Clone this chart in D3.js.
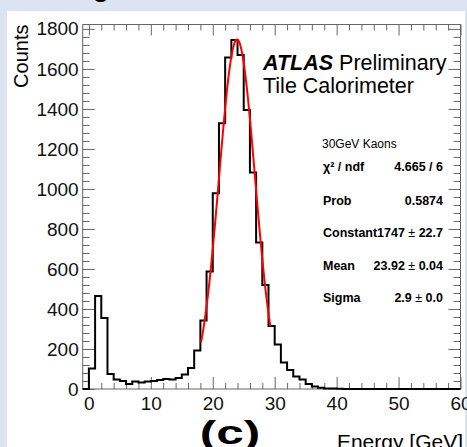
<!DOCTYPE html>
<html>
<head>
<meta charset="utf-8">
<script src="https://cdn.jsdelivr.net/npm/d3@7/dist/d3.min.js"></script>
<style>
  body { margin: 0; background: #dbe4f0; }
  svg { display: block; font-family: "Liberation Sans", Arial, sans-serif; }
</style>
</head>
<body>
<div id="chart"></div>
<script>
// histogram contents, one entry per 1 GeV bin starting at -1 GeV
const binWidth = 1;
const firstEdge = -1;
const counts = [
  0, 103, 465, 355, 75, 48, 40, 25, 37, 33,
  37, 40, 45, 50, 47, 55, 72, 105, 193, 342,
  587, 978, 1328, 1657, 1745, 1670, 1395, 1082, 732, 520,
  315, 222, 132, 95, 62, 48, 25, 12, 6, 3,
  2, 1, 0, 0, 0, 0, 0, 0, 0, 0,
  0, 0, 0, 0, 0, 0, 0, 0, 0, 0,
  0
];

// gaussian fit (values from the stats box)
const fitConstant = 1747;
const fitMean = 23.92;
const fitSigma = 2.9;
const fitRange = [18.1, 29.3];

const xMajorTicks = [0, 10, 20, 30, 40, 50, 60];
const yMajorTicks = [0, 200, 400, 600, 800, 1000, 1200, 1400, 1600, 1800];

const statsTitle = "30GeV Kaons";
const statsNames = ["\u03c7\u00b2 / ndf", "Prob", "Constant", "Mean", "Sigma"];
const statsValues = [["4.665 / 6"], ["0.5874"], ["1747", "22.7"], ["23.92", "0.04"], ["2.9", "0.0"]];

function drawHistogram() {
  const dimensions = {
    width: 467,
    height: 447,
    frame: { left: 82.7, right: 460.5, top: 24.5, bottom: 389 }
  };

  const svg = d3.select("#chart")
    .append("svg")
    .attr("width", dimensions.width)
    .attr("height", dimensions.height);

  // white slide panel
  svg.append("rect")
    .attr("x", 7)
    .attr("y", 11)
    .attr("width", 458)
    .attr("height", 440)
    .attr("fill", "white");

  // bit of the title line above that is cut off
  svg.append("text")
    .attr("x", 92)
    .attr("y", 2)
    .attr("font-size", 30)
    .attr("font-weight", "bold")
    .text("e");

  const f = dimensions.frame;
  const xScale = d3.scaleLinear().domain([-1, 60]).range([f.left, f.right]);
  const yScale = d3.scaleLinear().domain([0, 1822]).range([f.bottom, f.top]);

  const xMinorTicks = d3.range(0, 61, 2).filter((d) => d % 10 !== 0);
  const yMinorTicks = d3.range(0, 1801, 40).filter((d) => d % 200 !== 0);

  const axisColor = "#666";

  function styleAxis(g) {
    g.attr("font-family", null).attr("font-size", null);
    g.select(".domain").remove();
    g.selectAll(".tick line").attr("stroke", axisColor);
    g.selectAll(".tick text").attr("fill", "#111").attr("font-size", 19);
  }

  // bottom
  svg.append("g")
    .attr("transform", `translate(0,${f.bottom})`)
    .call(d3.axisBottom(xScale).tickValues(xMinorTicks).tickSize(-6).tickFormat(""))
    .call(styleAxis);
  svg.append("g")
    .attr("transform", `translate(0,${f.bottom})`)
    .call(d3.axisBottom(xScale).tickValues(xMajorTicks).tickSize(-12).tickPadding(8).tickFormat(d3.format("d")))
    .call(styleAxis);

  // top
  svg.append("g")
    .attr("transform", `translate(0,${f.top})`)
    .call(d3.axisTop(xScale).tickValues(xMinorTicks).tickSize(-6).tickFormat(""))
    .call(styleAxis);
  svg.append("g")
    .attr("transform", `translate(0,${f.top})`)
    .call(d3.axisTop(xScale).tickValues(xMajorTicks).tickSize(-11).tickFormat(""))
    .call(styleAxis);

  // left
  svg.append("g")
    .attr("transform", `translate(${f.left},0)`)
    .call(d3.axisLeft(yScale).tickValues(yMinorTicks).tickSize(-7).tickFormat(""))
    .call(styleAxis);
  svg.append("g")
    .attr("transform", `translate(${f.left},0)`)
    .call(d3.axisLeft(yScale).tickValues(yMajorTicks).tickSize(-12).tickPadding(4).tickFormat(d3.format("d")))
    .call(styleAxis);

  // right
  svg.append("g")
    .attr("transform", `translate(${f.right},0)`)
    .call(d3.axisRight(yScale).tickValues(yMinorTicks).tickSize(-7).tickFormat(""))
    .call(styleAxis);
  svg.append("g")
    .attr("transform", `translate(${f.right},0)`)
    .call(d3.axisRight(yScale).tickValues(yMajorTicks).tickSize(-12).tickFormat(""))
    .call(styleAxis);

  // frame
  svg.append("rect")
    .attr("x", f.left)
    .attr("y", f.top)
    .attr("width", f.right - f.left)
    .attr("height", f.bottom - f.top)
    .attr("fill", "none")
    .attr("stroke", axisColor)
    .attr("stroke-width", 1);

  // histogram as a step line
  const bins = counts.map((c, i) => ({
    x0: firstEdge + i * binWidth,
    x1: firstEdge + (i + 1) * binWidth,
    count: c
  }));
  const stepPoints = [];
  bins.forEach((b) => {
    stepPoints.push([b.x0, b.count], [b.x1, b.count]);
  });

  const lineGenerator = d3.line()
    .x((d) => xScale(d[0]))
    .y((d) => yScale(d[1]));

  svg.append("path")
    .attr("d", lineGenerator(stepPoints))
    .attr("fill", "none")
    .attr("stroke", "black")
    .attr("stroke-width", 2)
    .attr("stroke-linejoin", "miter");

  // fit curve
  const gauss = (x) => fitConstant * Math.exp(-0.5 * ((x - fitMean) / fitSigma) ** 2);
  const fitPoints = d3.range(fitRange[0], fitRange[1] + 0.001, 0.05).map((x) => [x, gauss(x)]);

  svg.append("path")
    .attr("d", lineGenerator(fitPoints))
    .attr("fill", "none")
    .attr("stroke", "#ff0000")
    .attr("stroke-width", 2);

  // axis titles
  svg.append("text")
    .attr("transform", `translate(28,${f.top}) rotate(-90)`)
    .attr("text-anchor", "end")
    .attr("font-size", 20)
    .text("Counts");

  svg.append("text")
    .attr("x", 463)
    .attr("y", 449)
    .attr("text-anchor", "end")
    .attr("font-size", 21)
    .text("Energy [GeV]");

  svg.append("text")
    .attr("transform", "translate(230,444) scale(1.5,1)")
    .attr("text-anchor", "middle")
    .attr("font-size", 33)
    .attr("font-weight", "bold")
    .text("(c)");

  // ATLAS label
  const atlas = svg.append("text")
    .attr("x", 263)
    .attr("y", 69.5)
    .attr("font-size", 21.5);
  atlas.append("tspan").attr("font-weight", "bold").attr("font-style", "italic").text("ATLAS");
  atlas.append("tspan").text(" Preliminary");

  svg.append("text")
    .attr("x", 263)
    .attr("y", 93.3)
    .attr("font-size", 21.5)
    .text("Tile Calorimeter");

  // stats box
  const stats = svg.append("g").attr("font-size", 12.5);
  stats.append("text")
    .attr("x", 322)
    .attr("y", 148)
    .attr("font-size", 12)
    .text(statsTitle);

  const rowY = [170.7, 205, 237.3, 270, 301.7];
  statsNames.forEach((name, i) => {
    stats.append("text")
      .attr("x", 323)
      .attr("y", rowY[i])
      .attr("font-weight", "bold")
      .text(name);

    const v = statsValues[i];
    const t = stats.append("text")
      .attr("x", 443)
      .attr("y", rowY[i])
      .attr("text-anchor", "end")
      .attr("font-weight", "bold");
    t.append("tspan").text(v[0]);
    if (v.length > 1) {
      t.append("tspan").attr("font-weight", "normal").text("  \u00b1 ");
      t.append("tspan").text(v[1]);
    }
  });
}

drawHistogram();
</script>
</body>
</html>
